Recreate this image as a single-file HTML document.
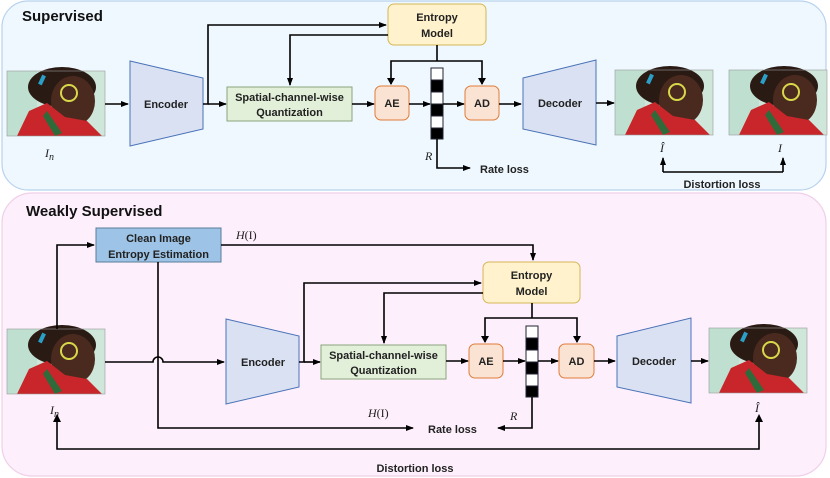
<!DOCTYPE html>
<html><head><meta charset="utf-8"><style>
html,body{margin:0;padding:0;background:#fff}
svg{display:block}
text{font-family:"Liberation Sans",sans-serif}
.b{font-weight:bold;font-size:11px;fill:#222}
.m{font-family:"Liberation Serif",serif;font-style:italic;font-size:12px;fill:#222}
.mr{font-family:"Liberation Serif",serif;font-size:12px;fill:#222}
</style></head><body>
<svg width="830" height="478" viewBox="0 0 830 478" xmlns="http://www.w3.org/2000/svg">
<defs>
<marker id="a" markerWidth="8" markerHeight="6" refX="7" refY="3" orient="auto" markerUnits="userSpaceOnUse"><path d="M0,0 L8,3 L0,6 z" fill="#000"/></marker>
<g id="pic">
<rect x="0" y="0" width="98" height="65" fill="#cfe6da"/>
<rect x="0" y="0" width="30" height="65" fill="#bfe0d0"/>
<ellipse cx="55" cy="16" rx="34" ry="20" fill="#2a1a14"/>
<ellipse cx="66" cy="30" rx="22" ry="25" fill="#4a2a1e"/>
<path d="M10,65 L22,40 L40,32 L58,46 L80,50 L95,65 z" fill="#c8262a"/>
<path d="M40,40 L55,62 L48,65 L36,45 z" fill="#2f6b3a"/>
<circle cx="62" cy="22" r="8" fill="none" stroke="#d8d84a" stroke-width="2"/>
<rect x="33" y="4" width="4" height="10" fill="#2aa0c8" transform="rotate(25 35 9)"/>
<rect x="0" y="0" width="98" height="65" fill="none" stroke="#999" stroke-width="0.6"/>
</g>
</defs>

<!-- top panel -->
<rect x="2" y="1" width="824" height="189" rx="26" fill="#eef8fe" stroke="#b8d2ee" stroke-width="1.2"/>
<text x="22" y="21" font-weight="bold" font-size="15" fill="#111">Supervised</text>

<use href="#pic" x="7" y="71"/>
<text x="45" y="157" class="m" font-size="14">I<tspan font-size="10" dy="3">n</tspan></text>
<line x1="105" y1="104" x2="128" y2="104" stroke="#000" stroke-width="1.6" marker-end="url(#a)"/>
<polygon points="130,61 203,78 203,129 130,146" fill="#d9e1f2" stroke="#4a72b8" stroke-width="1"/>
<text x="166" y="108" class="b" text-anchor="middle">Encoder</text>
<polyline points="203,104 208,104 208,25 386,25" fill="none" stroke="#000" stroke-width="1.6" marker-end="url(#a)"/>
<line x1="208" y1="104" x2="226" y2="104" stroke="#000" stroke-width="1.6" marker-end="url(#a)"/>
<rect x="227" y="87" width="125" height="34" fill="#e2efd9" stroke="#8aa37a"/>
<text x="289.5" y="101" class="b" text-anchor="middle">Spatial-channel-wise</text>
<text x="289.5" y="116" class="b" text-anchor="middle">Quantization</text>
<rect x="388" y="4" width="98" height="41" rx="6" fill="#fff2cc" stroke="#d6b656"/>
<text x="437" y="21" class="b" text-anchor="middle">Entropy</text>
<text x="437" y="37" class="b" text-anchor="middle">Model</text>
<polyline points="388,35 290,35 290,85" fill="none" stroke="#000" stroke-width="1.6" marker-end="url(#a)"/>
<line x1="352" y1="104" x2="374" y2="104" stroke="#000" stroke-width="1.6" marker-end="url(#a)"/>
<rect x="375" y="86" width="34" height="34" rx="6" fill="#fbe3d3" stroke="#e07b39"/>
<text x="392" y="107" class="b" text-anchor="middle">AE</text>
<line x1="409" y1="104" x2="430" y2="104" stroke="#000" stroke-width="1.6" marker-end="url(#a)"/>
<g stroke="#223" stroke-width="1">
<rect x="431" y="68" width="12" height="12" fill="#fff"/><rect x="431" y="80" width="12" height="12" fill="#000"/>
<rect x="431" y="92" width="12" height="12" fill="#fff"/><rect x="431" y="104" width="12" height="12" fill="#000"/>
<rect x="431" y="116" width="12" height="12" fill="#fff"/><rect x="431" y="128" width="12" height="11" fill="#000"/>
</g>
<line x1="443" y1="104" x2="464" y2="104" stroke="#000" stroke-width="1.6" marker-end="url(#a)"/>
<rect x="465" y="86" width="34" height="34" rx="6" fill="#fbe3d3" stroke="#e07b39"/>
<text x="482" y="107" class="b" text-anchor="middle">AD</text>
<polyline points="437,45 437,61" fill="none" stroke="#000" stroke-width="1.6"/>
<polyline points="391,84 391,61 482,61 482,84" fill="none" stroke="#000" stroke-width="1.6"/>
<path d="M387,78 L391,85 L395,78 z M478,78 L482,85 L486,78 z"/>
<line x1="499" y1="104" x2="521" y2="104" stroke="#000" stroke-width="1.6" marker-end="url(#a)"/>
<polygon points="523,78 596,60 596,145 523,129" fill="#d9e1f2" stroke="#4a72b8"/>
<text x="560" y="107" class="b" text-anchor="middle">Decoder</text>
<line x1="596" y1="103" x2="614" y2="103" stroke="#000" stroke-width="1.6" marker-end="url(#a)"/>
<use href="#pic" x="615" y="70"/>
<use href="#pic" x="729" y="70"/>
<text x="662" y="152" class="m" font-size="14" text-anchor="middle">Î</text>
<text x="780" y="152" class="m" font-size="14" text-anchor="middle">I</text>
<polyline points="663,172 783,172" fill="none" stroke="#000" stroke-width="1.6"/>
<line x1="663" y1="172" x2="663" y2="158" stroke="#000" stroke-width="1.6" marker-end="url(#a)"/>
<line x1="783" y1="172" x2="783" y2="158" stroke="#000" stroke-width="1.6" marker-end="url(#a)"/>
<text x="722" y="188" class="b" text-anchor="middle">Distortion loss</text>
<text x="425" y="160" class="m" font-size="13">R</text>
<polyline points="437,139 437,168 470,168" fill="none" stroke="#000" stroke-width="1.6" marker-end="url(#a)"/>
<text x="480" y="173" class="b">Rate loss</text>

<!-- bottom panel -->
<rect x="2" y="193" width="824" height="283" rx="30" fill="#fdf0fc" stroke="#f0cfe8" stroke-width="1.2"/>
<text x="26" y="216" font-weight="bold" font-size="15" fill="#111">Weakly Supervised</text>
<rect x="96" y="228" width="125" height="34" fill="#9dc3e6" stroke="#5a7d9a"/>
<text x="158.5" y="242" class="b" text-anchor="middle">Clean Image</text>
<text x="158.5" y="258" class="b" text-anchor="middle">Entropy Estimation</text>
<text x="236" y="239" class="mr"><tspan font-style="italic">H</tspan>(I)</text>
<polyline points="221,245 533,245 533,260" fill="none" stroke="#000" stroke-width="1.6" marker-end="url(#a)"/>
<use href="#pic" x="7" y="329"/>
<text x="50" y="414" class="m" font-size="14">I<tspan font-size="10" dy="3">n</tspan></text>
<polyline points="57,329 57,245 94,245" fill="none" stroke="#000" stroke-width="1.6" marker-end="url(#a)"/>
<path d="M105,362 L153,362 A5,5 0 0 1 163,362 L224,362" fill="none" stroke="#000" stroke-width="1.6" marker-end="url(#a)"/>
<polyline points="158,262 158,428 413,428" fill="none" stroke="#000" stroke-width="1.6" marker-end="url(#a)"/>
<text x="368" y="417" class="mr"><tspan font-style="italic">H</tspan>(I)</text>
<polygon points="226,319 299,336 299,387 226,404" fill="#d9e1f2" stroke="#4a72b8"/>
<text x="263" y="366" class="b" text-anchor="middle">Encoder</text>
<polyline points="299,362 304,362 304,283 481,283" fill="none" stroke="#000" stroke-width="1.6" marker-end="url(#a)"/>
<line x1="304" y1="362" x2="320" y2="362" stroke="#000" stroke-width="1.6" marker-end="url(#a)"/>
<rect x="321" y="345" width="125" height="34" fill="#e2efd9" stroke="#8aa37a"/>
<text x="383.5" y="359" class="b" text-anchor="middle">Spatial-channel-wise</text>
<text x="383.5" y="374" class="b" text-anchor="middle">Quantization</text>
<rect x="483" y="262" width="97" height="41" rx="6" fill="#fff2cc" stroke="#d6b656"/>
<text x="531.5" y="279" class="b" text-anchor="middle">Entropy</text>
<text x="531.5" y="295" class="b" text-anchor="middle">Model</text>
<polyline points="483,293 384,293 384,343" fill="none" stroke="#000" stroke-width="1.6" marker-end="url(#a)"/>
<line x1="446" y1="361" x2="468" y2="361" stroke="#000" stroke-width="1.6" marker-end="url(#a)"/>
<rect x="469" y="344" width="34" height="34" rx="6" fill="#fbe3d3" stroke="#e07b39"/>
<text x="486" y="365" class="b" text-anchor="middle">AE</text>
<line x1="503" y1="361" x2="525" y2="361" stroke="#000" stroke-width="1.6" marker-end="url(#a)"/>
<g stroke="#223" stroke-width="1">
<rect x="526" y="326" width="12" height="12" fill="#fff"/><rect x="526" y="338" width="12" height="12" fill="#000"/>
<rect x="526" y="350" width="12" height="12" fill="#fff"/><rect x="526" y="362" width="12" height="12" fill="#000"/>
<rect x="526" y="374" width="12" height="12" fill="#fff"/><rect x="526" y="386" width="12" height="11" fill="#000"/>
</g>
<line x1="538" y1="361" x2="558" y2="361" stroke="#000" stroke-width="1.6" marker-end="url(#a)"/>
<rect x="559" y="344" width="35" height="34" rx="6" fill="#fbe3d3" stroke="#e07b39"/>
<text x="576.5" y="365" class="b" text-anchor="middle">AD</text>
<line x1="532" y1="303" x2="532" y2="318" stroke="#000" stroke-width="1.6"/>
<polyline points="485,342 485,318 577,318 577,342" fill="none" stroke="#000" stroke-width="1.6"/>
<path d="M481,336 L485,343 L489,336 z M573,336 L577,343 L581,336 z"/>
<line x1="594" y1="361" x2="615" y2="361" stroke="#000" stroke-width="1.6" marker-end="url(#a)"/>
<polygon points="617,336 691,318 691,403 617,387" fill="#d9e1f2" stroke="#4a72b8"/>
<text x="654" y="365" class="b" text-anchor="middle">Decoder</text>
<line x1="691" y1="361" x2="708" y2="361" stroke="#000" stroke-width="1.6" marker-end="url(#a)"/>
<use href="#pic" x="709" y="328"/>
<text x="757" y="412" class="m" font-size="14" text-anchor="middle">Î</text>
<text x="510" y="420" class="m" font-size="13">R</text>
<polyline points="532,397 532,428 498,428" fill="none" stroke="#000" stroke-width="1.6" marker-end="url(#a)"/>
<text x="428" y="433" class="b">Rate loss</text>
<polyline points="57,417 57,449 759,449 759,417" fill="none" stroke="#000" stroke-width="1.6"/>
<path d="M53,422 L57,414 L61,422 z M755,422 L759,414 L763,422 z"/>
<text x="415" y="472" class="b" text-anchor="middle">Distortion loss</text>
</svg>
</body></html>
